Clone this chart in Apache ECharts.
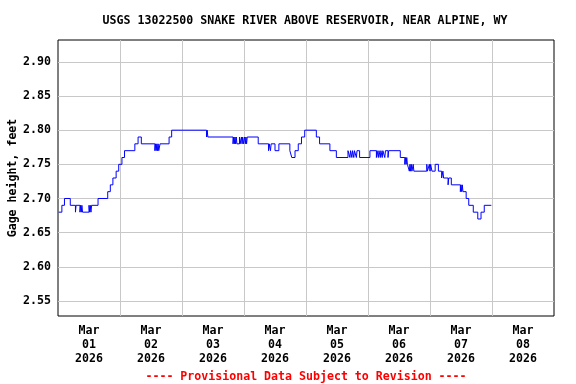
<!DOCTYPE html>
<html>
<head>
<meta charset="utf-8">
<script src="https://cdn.jsdelivr.net/npm/echarts@6/dist/echarts.min.js"></script>
<style>
html,body{margin:0;padding:0;background:#fff;}
#chart{width:576px;height:384px;}
</style>
</head>
<body>
<div id="chart"></div>
<script>
// ---- data (change points of the 15-minute gage-height record, step line) ----
const times = [
 '2026-03-01 00:15','2026-03-01 01:30','2026-03-01 02:30','2026-03-01 04:45','2026-03-01 06:45','2026-03-01 07:00',
 '2026-03-01 08:30','2026-03-01 08:45','2026-03-01 09:00','2026-03-01 09:15','2026-03-01 09:30','2026-03-01 12:00',
 '2026-03-01 12:15','2026-03-01 12:30','2026-03-01 12:45','2026-03-01 13:00','2026-03-01 15:30','2026-03-01 19:15',
 '2026-03-01 20:15','2026-03-01 21:15','2026-03-01 22:30','2026-03-01 23:30',
 '2026-03-02 00:45','2026-03-02 01:45','2026-03-02 05:45','2026-03-02 07:00','2026-03-02 08:15','2026-03-02 13:30',
 '2026-03-02 13:45','2026-03-02 14:00','2026-03-02 14:15','2026-03-02 14:30','2026-03-02 14:45','2026-03-02 15:00',
 '2026-03-02 15:30','2026-03-02 19:00','2026-03-02 20:00',
 '2026-03-03 09:30','2026-03-03 09:45','2026-03-03 10:00','2026-03-03 19:45','2026-03-03 20:00','2026-03-03 20:15',
 '2026-03-03 20:30','2026-03-03 20:45','2026-03-03 21:00','2026-03-03 21:15','2026-03-03 22:15','2026-03-03 22:30',
 '2026-03-03 23:00','2026-03-03 23:15','2026-03-03 23:30','2026-03-03 23:45',
 '2026-03-04 00:15','2026-03-04 00:30','2026-03-04 00:45','2026-03-04 01:00','2026-03-04 01:15','2026-03-04 05:30',
 '2026-03-04 09:30','2026-03-04 09:45','2026-03-04 10:15','2026-03-04 10:30','2026-03-04 12:00','2026-03-04 13:30',
 '2026-03-04 17:45','2026-03-04 18:30','2026-03-04 19:45','2026-03-04 21:00','2026-03-04 22:15','2026-03-04 23:30',
 '2026-03-05 04:00','2026-03-05 05:15','2026-03-05 09:15','2026-03-05 11:45','2026-03-05 16:15','2026-03-05 17:00',
 '2026-03-05 17:15','2026-03-05 17:45','2026-03-05 18:00','2026-03-05 18:30','2026-03-05 18:45','2026-03-05 19:30',
 '2026-03-05 19:45','2026-03-05 20:45',
 '2026-03-06 00:45','2026-03-06 03:15','2026-03-06 03:30','2026-03-06 04:00','2026-03-06 04:15','2026-03-06 04:45',
 '2026-03-06 05:00','2026-03-06 05:30','2026-03-06 05:45','2026-03-06 06:30','2026-03-06 06:45','2026-03-06 07:45',
 '2026-03-06 08:00','2026-03-06 12:30','2026-03-06 14:15','2026-03-06 14:30','2026-03-06 14:45','2026-03-06 15:00',
 '2026-03-06 15:15','2026-03-06 16:00','2026-03-06 16:15','2026-03-06 16:30','2026-03-06 16:45','2026-03-06 17:00',
 '2026-03-06 17:30','2026-03-06 17:45','2026-03-06 22:45','2026-03-06 23:00','2026-03-06 23:45',
 '2026-03-07 00:00','2026-03-07 00:15','2026-03-07 00:45','2026-03-07 02:00','2026-03-07 03:15','2026-03-07 04:30',
 '2026-03-07 05:00','2026-03-07 05:15','2026-03-07 07:00','2026-03-07 07:15','2026-03-07 08:15','2026-03-07 11:45',
 '2026-03-07 12:00','2026-03-07 12:15','2026-03-07 12:30','2026-03-07 12:45','2026-03-07 14:00','2026-03-07 15:00',
 '2026-03-07 16:45','2026-03-07 18:30','2026-03-07 19:45','2026-03-07 21:00','2026-03-07 23:45'
];
const heights = [
 2.68,2.69,2.70,2.69,2.68,2.69,
 2.68,2.69,2.68,2.69,2.68,2.69,
 2.68,2.69,2.68,2.69,2.70,2.71,
 2.72,2.73,2.74,2.75,
 2.76,2.77,2.78,2.79,2.78,2.77,
 2.78,2.77,2.78,2.77,2.78,2.77,
 2.78,2.79,2.80,
 2.79,2.80,2.79,2.78,2.79,2.78,
 2.79,2.78,2.79,2.78,2.79,2.78,
 2.79,2.78,2.79,2.78,
 2.79,2.78,2.79,2.78,2.79,2.78,
 2.77,2.78,2.77,2.78,2.77,2.78,
 2.77,2.76,2.77,2.78,2.79,2.80,
 2.79,2.78,2.77,2.76,2.77,2.76,
 2.77,2.76,2.77,2.76,2.77,2.76,
 2.77,2.76,
 2.77,2.76,2.77,2.76,2.77,2.76,
 2.77,2.76,2.77,2.76,2.77,2.76,
 2.77,2.76,2.75,2.76,2.75,2.76,
 2.75,2.74,2.75,2.74,2.75,2.74,
 2.75,2.74,2.75,2.74,2.75,
 2.74,2.75,2.74,2.75,2.74,2.73,
 2.74,2.73,2.72,2.73,2.72,2.71,
 2.72,2.71,2.72,2.71,2.70,2.69,
 2.68,2.67,2.68,2.69,2.69
];
const yTicks = [2.55,2.60,2.65,2.70,2.75,2.80,2.85,2.90];
const dayStarts = ['2026-03-02','2026-03-03','2026-03-04','2026-03-05','2026-03-06','2026-03-07','2026-03-08'];
const dayLabels = ['2026-03-01','2026-03-02','2026-03-03','2026-03-04','2026-03-05','2026-03-06','2026-03-07','2026-03-08'];
const titleText = 'USGS 13022500 SNAKE RIVER ABOVE RESERVOIR, NEAR ALPINE, WY';
const yName = 'Gage height, feet';
const footText = '---- Provisional Data Subject to Revision ----';

function ts(s){ const p = s.split(/[- :]/).map(Number); return new Date(p[0], p[1]-1, p[2], p[3]||0, p[4]||0).getTime(); }
const seriesData = times.map((t,i)=>[ts(t), heights[i]]);
const MON = ['Jan','Feb','Mar','Apr','May','Jun','Jul','Aug','Sep','Oct','Nov','Dec'];
const FONT = '"DejaVu Sans Mono", monospace';

const chart = echarts.init(document.getElementById('chart'), null, {renderer:'canvas'});
chart.setOption({
  animation:false,
  backgroundColor:'#fff',
  title:[
    {text:titleText, left:300, top:10, textAlign:'center',
     textStyle:{fontFamily:FONT, fontWeight:'bold', fontSize:11.6, color:'#000'}},
    {text:footText, left:301, top:366, textAlign:'center',
     textStyle:{fontFamily:FONT, fontWeight:'bold', fontSize:11.6, color:'#ff0000'}}
  ],
  graphic:[{
    type:'text', x:13, y:178, rotation:Math.PI/2,
    style:{text:yName, align:'center', verticalAlign:'middle', fill:'#000',
           font:'bold 11.6px "DejaVu Sans Mono", monospace'}
  }],
  grid:{left:58, right:22, top:40, bottom:68, outerBoundsMode:'none', containLabel:false,
        show:true, borderColor:'#000', borderWidth:1, backgroundColor:'transparent'},
  xAxis:{
    type:'value',
    min:ts('2026-03-01 00:00'), max:ts('2026-03-09 00:00'),
    axisLine:{show:false},
    axisTick:{show:false, customValues:dayStarts.map(d=>ts(d+' 00:00'))},
    splitLine:{show:true, lineStyle:{color:'#c8c8c8', width:1}},
    axisLabel:{
      customValues:dayLabels.map(d=>ts(d+' 12:00')),
      formatter:function(v){ const d=new Date(v); return MON[d.getMonth()]+'\n'+String(d.getDate()).padStart(2,'0')+'\n'+d.getFullYear(); },
      fontFamily:FONT, fontWeight:'bold', fontSize:11.6, color:'#000', lineHeight:14, margin:8, align:'center'
    }
  },
  yAxis:{
    type:'value', min:2.528, max:2.932,
    axisLine:{show:false},
    axisTick:{show:false, customValues:yTicks},
    splitLine:{show:true, lineStyle:{color:'#c8c8c8', width:1}},
    axisLabel:{customValues:yTicks, formatter:v=>v.toFixed(2), fontFamily:FONT, fontWeight:'bold', fontSize:11.6, color:'#000', margin:7}
  },
  series:[{
    type:'line', step:'end', data:seriesData, showSymbol:false, symbol:'none',
    lineStyle:{color:'#0000ff', width:1}, clip:true
  }]
});
</script>
</body>
</html>
